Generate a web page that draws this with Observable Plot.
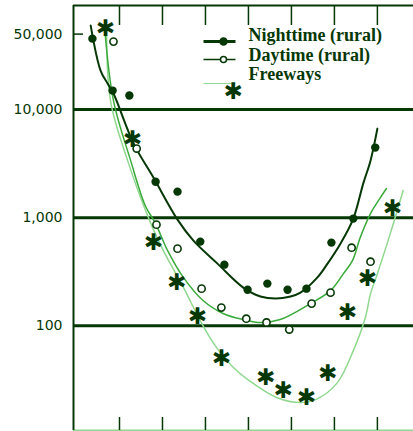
<!DOCTYPE html>
<html>
<head>
<meta charset="utf-8">
<script src="https://cdn.jsdelivr.net/npm/d3@7"></script>
<script src="https://cdn.jsdelivr.net/npm/@observablehq/plot@0.6"></script>
<style>
  html, body { margin: 0; padding: 0; background: #fff; }
</style>
</head>
<body>
<div id="wrap"></div>
<script>
// ---- data ----
const xTicks = [-30, -20, -10, 0, 10, 20, 30];
const yTicks = [100, 1000, 10000, 50000];
const gridValues = [100, 1000, 10000];
const topTickValue = [50000];
const xDomain = [-40.7, 38.4];
const yDomain = [10.7, 92000];

const seriesNames = ["Nighttime (rural)", "Daytime (rural)", "Freeways"];

const nightX = [-36.3, -31.6, -27.7, -21.6, -16.5, -11.2, -5.6, -0.2, 4.4, 9.1, 13.5, 19.3, 24.4, 29.5];
const nightY = [45400, 15000, 13500, 2150, 1740, 600, 367, 215, 245, 215, 220, 587, 980, 4450];

const dayX = [-31.4, -26.0, -21.4, -16.5, -10.9, -6.3, -0.5, 4.2, 9.5, 14.7, 19.1, 24.0, 28.4];
const dayY = [42600, 4360, 861, 516, 220, 147, 116, 107, 92, 160, 202, 527, 391];

const freeX = [-33.3, -27.0, -22.1, -16.7, -11.9, -6.3, 4.0, 8.1, 13.5, 18.4, 23.0, 27.7, 33.5];
const freeY = [56200, 5280, 587, 250, 121, 49.5, 33, 25, 21.5, 36, 132, 272, 1210];

// fitted curves as drawn in the reference
const nightCurveX = [-36.7, -34.4, -32.8, -31.4, -26.7, -22.1, -16.5, -12.8, -7.2, -1.2, 2.8, 6.3, 9.8, 12.1, 16.0, 18.4, 21.4, 24.4, 26.7, 28.4, 30.0];
const nightCurveY = [60000, 23000, 17500, 14100, 4840, 2350, 958, 612, 375, 225, 186, 178, 186, 202, 278, 375, 574, 980, 2065, 3370, 6670];

const dayCurveX = [-33.5, -31.4, -27.4, -24.0, -21.6, -18.8, -15.1, -10.5, -5.8, -1.2, 2.8, 7.4, 14.4, 19.1, 22.1, 24.2, 26.0, 28.4, 30.7, 32.1];
const dayCurveY = [60000, 12100, 3370, 1290, 880, 495, 278, 170, 129, 114, 107, 114, 160, 211, 303, 400, 653, 1090, 1530, 1860];

const freeCurveX = [-33.0, -32.1, -28.1, -22.8, -19.8, -15.1, -11.2, -7.7, -3.5, 1.2, 6.7, 12.1, 16.0, 20.7, 24.4, 27.2, 28.4, 30.0, 33.0, 36.0];
const freeCurveY = [60000, 12100, 3370, 899, 495, 225, 111, 65, 41, 29, 21.5, 19.4, 21, 29.7, 58.7, 119, 198, 303, 711, 1780];

// ---- build tables ----
const zip = (xs, ys) => xs.map((x, i) => ({x, y: ys[i]}));
const night = zip(nightX, nightY), day = zip(dayX, dayY), free = zip(freeX, freeY);
const nightCurve = zip(nightCurveX, nightCurveY);
const dayCurve = zip(dayCurveX, dayCurveY);
const freeCurve = zip(freeCurveX, freeCurveY);

const dark = "#063806";
const mid = "#3aaa3a";
const light = "#8fd88f";
const W = 413, H = 431, mT = 5, mB = 1, mL = 73;
const plotH = H - mT - mB, plotW = W - mL;
const fmt = d3.format(",");

// legend swatch: a short horizontal line (custom symbol)
const swatchLine = {draw(ctx) { ctx.moveTo(-16, 0); ctx.lineTo(16, 0); }};
const legendStyle = [
  {stroke: dark, sw: 3, marker: "dot", lineDy: 36, textDy: 30},
  {stroke: dark, sw: 1.5, marker: "circle", lineDy: 54, textDy: 50},
  {stroke: light, sw: 1, marker: "star", lineDy: 78, textDy: 69}
];
const legendMarks = [];
seriesNames.forEach((name, i) => {
  const s = legendStyle[i];
  legendMarks.push(Plot.dot([name], {frameAnchor: "top-left", dx: 146, dy: s.lineDy, symbol: swatchLine, stroke: s.stroke, strokeWidth: s.sw, fill: "none"}));
  if (s.marker === "star") {
    legendMarks.push(Plot.text([name], {frameAnchor: "top-left", dx: 150, dy: s.lineDy - 1, text: () => "\u2731", fontSize: 23, fill: dark, fontFamily: "DejaVu Sans"}));
  } else {
    legendMarks.push(Plot.dot([name], {frameAnchor: "top-left", dx: 150, dy: s.lineDy, r: s.marker === "dot" ? 3.5 : 3, fill: s.marker === "dot" ? dark : "#fff", stroke: dark, strokeWidth: 1.5}));
  }
  legendMarks.push(Plot.text([name], {frameAnchor: "top-left", dx: 175, dy: s.textDy, text: d => d, textAnchor: "start", lineAnchor: "middle", fontSize: 18, fontWeight: "bold", fontFamily: "Liberation Serif, serif", fill: dark}));
});

const chart = Plot.plot({
  width: W, height: H,
  marginLeft: mL, marginRight: 0, marginTop: mT, marginBottom: mB,
  style: {fontFamily: "DejaVu Sans, sans-serif", fontSize: "14px", color: dark},
  x: {domain: xDomain, axis: null},
  y: {type: "log", domain: yDomain, axis: null},
  marks: [
    Plot.ruleY([yDomain[0]], {stroke: light, strokeWidth: 2}),
    Plot.ruleY(gridValues, {stroke: dark, strokeWidth: 3}),
    Plot.ruleY([yDomain[1]], {stroke: dark, strokeWidth: 2}),
    Plot.ruleX([xDomain[0]], {stroke: dark, strokeWidth: 2}),
    Plot.tickX(xTicks, {insetTop: plotH - 13, stroke: dark, strokeWidth: 1.5}),
    Plot.tickX(xTicks, {insetBottom: plotH - 20, stroke: dark, strokeWidth: 1.5}),
    Plot.tickY(topTickValue, {insetRight: plotW - 10, stroke: dark, strokeWidth: 1.5}),
    Plot.text(yTicks, {y: d => d, text: d => fmt(d), frameAnchor: "left", textAnchor: "end", dx: -11, fontSize: 14, fill: dark}),
    Plot.line(freeCurve, {x: "x", y: "y", stroke: light, strokeWidth: 1.5, curve: "catmull-rom"}),
    Plot.line(dayCurve, {x: "x", y: "y", stroke: mid, strokeWidth: 1.5, curve: "catmull-rom"}),
    Plot.line(nightCurve, {x: "x", y: "y", stroke: dark, strokeWidth: 2, curve: "catmull-rom"}),
    Plot.dot(night, {x: "x", y: "y", r: 4.2, fill: dark, stroke: "none"}),
    Plot.dot(day, {x: "x", y: "y", r: 3.6, fill: "#fff", stroke: dark, strokeWidth: 1.6}),
    Plot.text(free, {x: "x", y: "y", text: () => "\u2731", fontSize: 23, fill: dark, fontFamily: "DejaVu Sans"}),
    ...legendMarks
  ]
});

document.getElementById("wrap").appendChild(chart);
</script>
</body>
</html>
